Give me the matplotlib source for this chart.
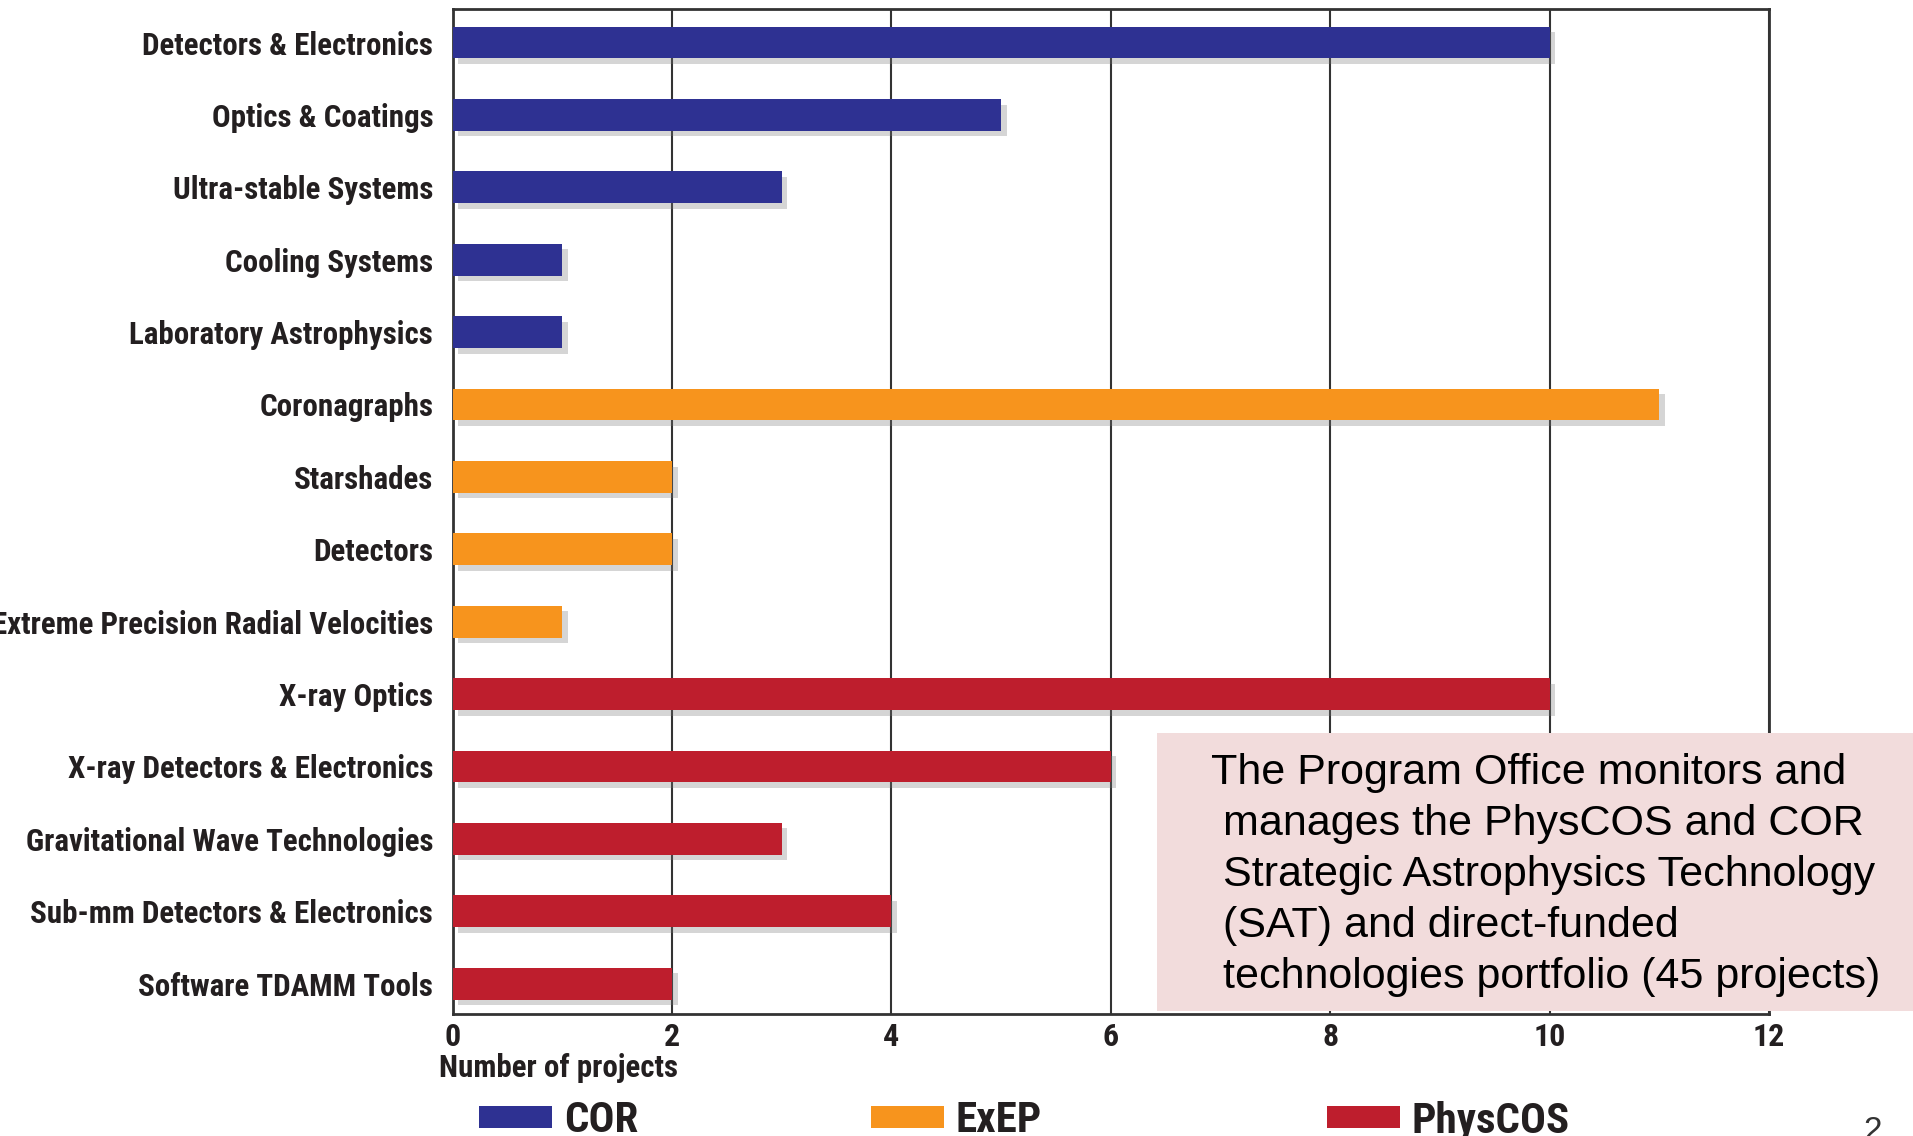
import numpy as np
import matplotlib
matplotlib.use('Agg')
import matplotlib.pyplot as plt
import matplotlib.patheffects as pe
from matplotlib.patches import Rectangle, Patch
from matplotlib import font_manager

# data
cor_labels = ['Detectors & Electronics', 'Optics & Coatings', 'Ultra-stable Systems',
              'Cooling Systems', 'Laboratory Astrophysics']
cor_values = [10, 5, 3, 1, 1]
exep_labels = ['Coronagraphs', 'Starshades', 'Detectors', 'Extreme Precision Radial Velocities']
exep_values = [11, 2, 2, 1]
phys_labels = ['X-ray Optics', 'X-ray Detectors & Electronics', 'Gravitational Wave Technologies',
               'Sub-mm Detectors & Electronics', 'Software TDAMM Tools']
phys_values = [10, 6, 3, 4, 2]
x_ticks = [0, 2, 4, 6, 8, 10, 12]

colors = {'COR': '#2e3192', 'ExEP': '#f7941d', 'PhysCOS': '#be1e2d'}
txt_col = '#231f20'

# condensed bold face, like the original's Helvetica Condensed
names = set(f.name for f in font_manager.fontManager.ttflist)
narrow = 'DejaVu Sans'
for cand in ['Roboto Condensed', 'PT Sans Narrow', 'Liberation Sans Narrow', 'Archivo Narrow', 'Barlow Semi Condensed']:
    if cand in names:
        narrow = cand
        break

fig = plt.figure(figsize=(19.13, 11.36), dpi=100)
ax = fig.add_axes([0.2366, 0.1074, 0.6881, 0.8851])

labels = cor_labels + exep_labels + phys_labels
shadow = [pe.SimplePatchShadow(offset=(4, -4), shadow_rgbFace='#777777', alpha=0.3), pe.Normal()]

start = 0
for name, vals in [('COR', cor_values), ('ExEP', exep_values), ('PhysCOS', phys_values)]:
    pos = np.arange(start, start + len(vals))
    bars = ax.barh(pos, vals, height=0.44, color=colors[name], label=name, zorder=3)
    for b in bars:
        b.set_path_effects(shadow)
    start += len(vals)

ax.set_ylim(len(labels) - 1 + 0.42, -0.47)
ax.set_xlim(0, 12)
ax.set_yticks(np.arange(len(labels)))
ax.set_yticklabels(labels, fontsize=22.3, fontweight='bold', family=narrow, color=txt_col)
ax.set_xticks(x_ticks)
ax.set_xticklabels([str(t) for t in x_ticks], fontsize=23, fontweight='bold', family=narrow, color=txt_col)
ax.tick_params(axis='both', length=0)
ax.tick_params(axis='y', pad=14)
ax.tick_params(axis='x', pad=6)
ax.grid(axis='x', color='#333333', linewidth=1.5, zorder=1)
for s in ax.spines.values():
    s.set_color('#333333')
    s.set_linewidth(2)

fig.text(439 / 1913, 1 - 1068 / 1136, 'Number of projects', fontsize=22.3, fontweight='bold',
         family=narrow, color=txt_col, ha='left', va='center')

# legend, one entry each to keep the uneven spacing of the original
leg_x = [479 / 1913, 871 / 1913, 1327 / 1913]
for name, lx in zip(['COR', 'ExEP', 'PhysCOS'], leg_x):
    h = Patch(facecolor=colors[name], edgecolor='none')
    lg = fig.legend([h], [name], loc='center left', bbox_to_anchor=(lx, 1 - 1121 / 1136),
                    frameon=False, handlelength=1.7, handleheight=0.4, handletextpad=0.27,
                    borderpad=0, borderaxespad=0,
                    prop=font_manager.FontProperties(family=narrow, weight='bold', size=31))
    for t in lg.get_texts():
        t.set_color(txt_col)

# note box
fig.add_artist(Rectangle((1157 / 1913, 1 - 1011 / 1136), 1 - 1157 / 1913, 278 / 1136,
                         transform=fig.transFigure, facecolor='#f2dcdc', edgecolor='none', zorder=5))
note = ('The Program Office monitors and\n manages the PhysCOS and COR\n'
        ' Strategic Astrophysics Technology\n (SAT) and direct-funded\n'
        ' technologies portfolio (45 projects)')
fig.text(1211 / 1913, 1 - 753 / 1136, note, fontsize=31, family='Liberation Sans',
         ha='left', va='top', linespacing=1.355, color='black', zorder=6)

fig.text(1873 / 1913, 1 - 1132 / 1136, '2', fontsize=24, family='Liberation Sans',
         ha='center', va='center', color='#333333')

fig.savefig('out.png', dpi=100)
